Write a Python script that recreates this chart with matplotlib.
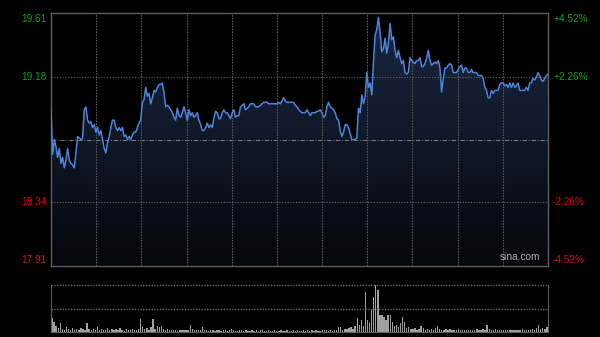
import numpy as np
import matplotlib
matplotlib.use("Agg")
import matplotlib.pyplot as plt
from matplotlib.colors import LinearSegmentedColormap

plt.rcParams['font.family'] = ['Liberation Sans', 'DejaVu Sans']

# Intraday price (prev close 18.76)
price = [
    18.96, 18.66, 18.76, 18.71, 18.64, 18.70, 18.60, 18.64, 18.57, 18.62,
    18.70, 18.62, 18.60, 18.59, 18.57, 18.67, 18.78, 18.77, 18.76, 18.77,
    18.96, 18.98, 18.89, 18.87, 18.88, 18.84, 18.86, 18.81, 18.84, 18.79,
    18.82, 18.76, 18.70, 18.67, 18.74, 18.78, 18.84, 18.89, 18.89, 18.84,
    18.82, 18.84, 18.82, 18.84, 18.78, 18.79, 18.76, 18.78, 18.76, 18.79,
    18.81, 18.81, 18.84, 18.87, 18.89, 19.01, 19.03, 19.11, 19.05, 19.07,
    19.00, 19.04,
    19.09, 19.08, 19.11, 19.13, 19.13, 19.14, 19.07, 18.98, 18.99, 18.98,
    18.96, 18.94, 18.91, 18.89, 18.97, 18.92, 18.91, 18.94, 18.98, 18.94,
    18.89, 18.96, 18.92, 18.94, 18.91, 18.92, 18.94, 18.89, 18.86, 18.82,
    18.82, 18.84, 18.87, 18.84, 18.86, 18.84, 18.90, 18.95, 18.94, 18.90,
    18.90, 18.94, 18.96, 18.94, 18.94, 18.92, 18.90, 18.94, 18.96, 18.91,
    18.92, 18.92, 18.98, 18.99, 19.00, 18.96, 18.97, 18.98, 19.00, 19.00,
    19.00, 18.98, 18.98, 18.98, 18.99, 19.00, 19.01, 19.01, 19.01, 19.00,
    19.00, 19.00, 19.00, 19.00, 19.00, 19.01, 19.00, 19.02, 19.04, 19.02,
    19.01, 19.01, 19.01, 19.01, 19.01, 18.99, 18.98, 18.96, 18.95, 18.94,
    18.94, 18.94, 18.96, 18.94, 18.92, 18.94, 18.94, 18.94, 18.95, 18.95,
    18.96, 18.94, 18.91, 18.92, 18.98, 19.01, 18.98, 18.97, 18.96, 18.94,
    18.90, 18.89, 18.82, 18.78, 18.81, 18.86, 18.86, 18.84, 18.80, 18.76,
    18.76, 18.76, 18.77, 18.97, 18.94, 19.06, 19.00, 19.05, 19.21, 19.11,
    19.14, 19.06, 19.28, 19.46, 19.50, 19.58, 19.48, 19.35, 19.37, 19.44,
    19.34, 19.41, 19.54, 19.43, 19.45, 19.36, 19.31, 19.36, 19.31, 19.27,
    19.29, 19.21, 19.20, 19.21, 19.31, 19.29, 19.28, 19.27, 19.29, 19.29,
    19.31, 19.25, 19.25, 19.27, 19.31, 19.36, 19.29, 19.26, 19.27, 19.28,
    19.27, 19.29, 19.24, 19.08, 19.17, 19.24, 19.24, 19.26, 19.27, 19.26,
    19.21, 19.21, 19.21, 19.23, 19.25, 19.26, 19.21, 19.24, 19.24, 19.21,
    19.21, 19.23, 19.21, 19.21, 19.21, 19.19, 19.19, 19.19, 19.17, 19.11,
    19.09, 19.04, 19.04, 19.09, 19.07, 19.09, 19.09, 19.09, 19.13, 19.14,
    19.14, 19.12, 19.13, 19.11, 19.14, 19.11, 19.14, 19.11, 19.12, 19.14,
    19.09, 19.09, 19.09, 19.09, 19.11, 19.09, 19.14, 19.14, 19.17, 19.16,
    19.18, 19.21, 19.19, 19.16, 19.15, 19.17, 19.19, 19.20,
]

# Per-minute volume (lots)
volume = [
    900, 640, 380, 250, 575, 200, 150, 300, 180, 120, 250, 160, 200, 140, 280, 180, 150, 575, 220, 130,
    180, 150, 300, 120, 200, 160, 100, 250, 140, 180, 120, 200, 150, 260, 130, 90, 170, 120, 150, 200,
    160, 120, 200, 830, 350, 180, 250, 150, 300, 830, 200, 380, 300, 380, 220, 150, 180, 120, 100, 150,
    120, 90, 150, 100, 130, 110, 160, 450, 200, 120, 100, 150, 130, 320, 150, 110, 90, 130, 100, 80,
    110, 140, 90, 120, 100, 80, 130, 200, 100, 90, 80, 120, 100, 80, 100, 70, 90, 110, 80, 100,
    80, 120, 100, 90, 70, 110, 80, 90, 100, 70, 80, 110, 90, 70, 100, 80, 90, 120, 80, 100,
    90, 70, 110, 80, 100, 90, 120, 80, 100, 90, 70, 110, 140, 100, 80, 120, 90, 110, 150, 320,
    320, 150, 200, 180, 250, 300, 200, 400, 900, 450, 770, 380, 2550, 770, 600, 1400, 2230, 3000, 2680, 1090,
    1090, 960, 770, 1090, 1090, 640, 380, 450, 300, 575, 960, 640, 250, 300, 200, 180, 250, 150, 200, 380,
    250, 150, 200, 120, 180, 150, 250, 380, 200, 150, 120, 180, 150, 200, 130, 160, 120, 180, 150, 110,
    130, 160, 120, 150, 100, 140, 170, 120, 150, 200, 130, 450, 200, 150, 120, 180, 140, 160, 120, 150,
    130, 110, 150, 120, 160, 130, 100, 140, 170, 120, 150, 130, 160, 200, 150, 250, 450, 200, 280, 200, 350,
]

prev_close = 18.76
price_ticks = [19.61, 19.18, 18.34, 17.91]
pct_labels = ["+4.52%", "+2.26%", "-2.26%", "-4.52%"]
n_sections = 11

ymin, ymax = 17.91, 19.61
x = np.arange(len(price))

fig = plt.figure(figsize=(6, 3.37), dpi=100, facecolor='black')
ax = fig.add_axes([0.085, 0.2107, 0.8283, 0.7507], facecolor='black')
axv = fig.add_axes([0.085, 0.0148, 0.8283, 0.1395], facecolor='black')

# gradient fill under the line
fill = ax.fill_between(x, price, ymin, color='none', lw=0)
cmap = LinearSegmentedColormap.from_list('g', ['#05070b', '#1a2843'])
grad = np.linspace(0, 1, 256).reshape(-1, 1)
im = ax.imshow(grad, extent=[0, len(price) - 1, ymin, ymax], aspect='auto',
               cmap=cmap, origin='lower', zorder=1)
im.set_clip_path(fill.get_paths()[0], transform=ax.transData)

ax.plot(x, price, color='#4d84d8', lw=1.1, zorder=3)

ax.set_xlim(0, len(price) - 1)
ax.set_ylim(ymin, ymax)
ax.set_xticks([])
ax.set_yticks([])
for s in ax.spines.values():
    s.set_color('#5e5e5e')
    s.set_linewidth(1.0)

# grid
for v in [19.18, 18.34]:
    ax.axhline(v, color='#666666', lw=0.8, ls=(0, (1, 1.5)), zorder=2)
ax.axhline(prev_close, color='#787878', lw=0.8, ls=(0, (4, 1.5, 1, 1.5)), zorder=2)
for k in range(1, n_sections):
    ax.axvline((len(price) - 1) * k / n_sections, color='#555555', lw=0.8,
               ls=(0, (1.5, 1)), zorder=2)

# price / percent labels
for i, (v, p) in enumerate(zip(price_ticks, pct_labels)):
    col = '#14a014' if v > prev_close else '#d01010'
    dy = -4.3 if i == 0 else (4.3 if i == len(price_ticks) - 1 else 0)
    ax.annotate(f"{v:.2f}", xy=(0, v), xycoords=('axes fraction', 'data'),
                xytext=(-3, dy), textcoords='offset points', ha='right',
                va='center', color=col, fontsize=7.3)
    ax.annotate(p, xy=(1, v), xycoords=('axes fraction', 'data'),
                xytext=(3.6, dy), textcoords='offset points', ha='left',
                va='center', color=col, fontsize=7.3)

ax.text(0.985, 0.015, "sina.com", transform=ax.transAxes, ha='right',
        va='bottom', color='#b0b0b0', fontsize=7.3, zorder=4)

# volume panel
xv = np.arange(len(volume))
axv.bar(xv, volume, width=0.65, color='#a0a0a0', lw=0)
axv.set_xlim(-0.5, len(volume) - 0.5)
axv.set_ylim(0, max(volume))
axv.set_xticks([])
axv.set_yticks([])
axv.spines['top'].set_visible(False)
for s in ['left', 'right', 'bottom']:
    axv.spines[s].set_color('#5e5e5e')
axv.axhline(max(volume), color='#666666', lw=1.0, ls=(0, (1, 1)), clip_on=False)
axv.axhline(max(volume) / 2, color='#666666', lw=1.0, ls=(0, (1, 1)))

fig.savefig("out.png", dpi=100, facecolor='black')
